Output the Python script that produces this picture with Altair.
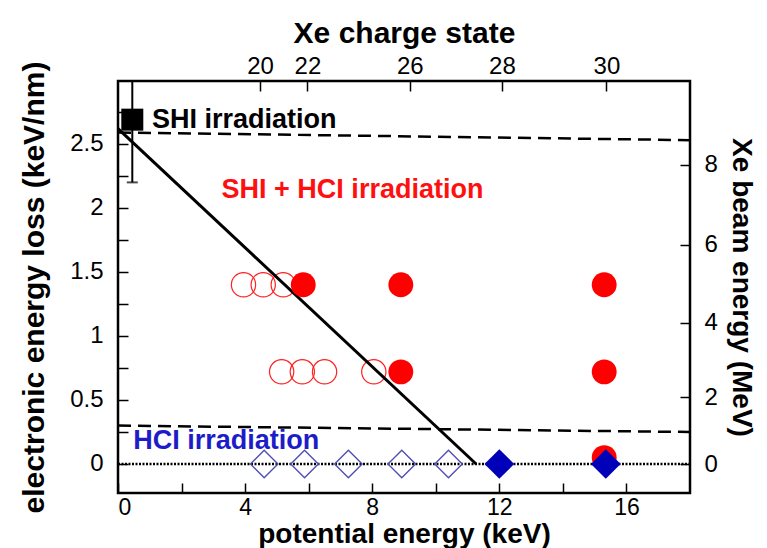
import altair as alt
import pandas as pd

FONT = "Liberation Sans"

# ---------------- data ----------------
x_ticks = [0, 2, 4, 6, 8, 10, 12, 14, 16]
y_ticks = [0, 0.25, 0.5, 0.75, 1.0, 1.25, 1.5, 1.75, 2.0, 2.25, 2.5, 2.75]
charge_states = [20, 22, 26, 28, 30]
charge_pe = [4.47, 5.96, 9.18, 12.08, 15.37]
beam_ticks = [0, 2, 4, 6, 8]

threshold_pe = [0.0, 11.27]
threshold_se = [2.62, 0.0]

shi_limit_pe = [0.0, 18.0]
shi_limit_se = [2.59, 2.53]
hci_limit_pe = [0.0, 18.0]
hci_limit_se = [0.30, 0.25]
zero_pe = [0.0, 18.0]
zero_se = [0.0, 0.0]

shi_pe = [0.45]
shi_se = [2.69]
shi_lo = [2.20]
shi_hi = [3.18]

hollow_circle_pe = [3.95, 4.57, 5.2, 5.15, 5.8, 6.5, 8.05]
hollow_circle_se = [1.40, 1.40, 1.40, 0.72, 0.72, 0.72, 0.72]
filled_circle_pe = [5.83, 8.9, 15.3, 8.9, 15.3, 15.3]
filled_circle_se = [1.40, 1.40, 1.40, 0.72, 0.72, 0.05]
hollow_diamond_pe = [4.6, 5.87, 7.25, 8.93, 10.4]
hollow_diamond_se = [0.0, 0.0, 0.0, 0.0, 0.0]
filled_diamond_pe = [12.0, 15.35]
filled_diamond_se = [0.0, 0.0]

label_text = ["SHI irradiation", "SHI + HCI irradiation", "HCI irradiation"]
label_pe = [1.07, 3.26, 0.48]
label_se = [2.69, 2.14, 0.18]
label_color = ["#000000", "#ff1010", "#1c1cc8"]

# ---------------- scales / axes ----------------
xscale = alt.Scale(domain=[0, 18], nice=False, zero=False)
yscale = alt.Scale(domain=[-0.2266, 2.992], nice=False, zero=False)

xaxis = alt.Axis(values=x_ticks, format="~g",
                 labelExpr="datum.value % 4 === 0 ? datum.label : ''",
                 title="potential energy (keV)", offset=-10, tickSize=10, domain=False,
                 grid=False, labelPadding=3, labelFontSize=23, titlePadding=1,
                 titleFontSize=28)
yaxis = alt.Axis(values=y_ticks, format="~g",
                 labelExpr="datum.value % 0.5 === 0 ? datum.label : ''",
                 title="electronic energy loss (keV/nm)", offset=-10, tickSize=10,
                 domain=False, grid=False, labelPadding=15, titlePadding=20)


def X(field):
    return alt.X(field, type="quantitative", scale=xscale, axis=xaxis)


def Y(field):
    return alt.Y(field, type="quantitative", scale=yscale, axis=yaxis)


def seg(pe, se):
    return pd.DataFrame({"pe": pe, "se": se})


threshold = alt.Chart(seg(threshold_pe, threshold_se)).mark_line(
    color="black", strokeWidth=3, clip=True).encode(x=X("pe"), y=Y("se"))
shi_limit = alt.Chart(seg(shi_limit_pe, shi_limit_se)).mark_line(
    color="black", strokeWidth=2.5, strokeDash=[13, 7], clip=True).encode(x=X("pe"), y=Y("se"))
hci_limit = alt.Chart(seg(hci_limit_pe, hci_limit_se)).mark_line(
    color="black", strokeWidth=2.5, strokeDash=[13, 7], clip=True).encode(x=X("pe"), y=Y("se"))
zero_line = alt.Chart(seg(zero_pe, zero_se)).mark_line(
    color="black", strokeWidth=2.5, strokeDash=[2, 1.5], clip=True).encode(x=X("pe"), y=Y("se"))

shi_df = pd.DataFrame({"pe": shi_pe, "se": shi_se, "lo": shi_lo, "hi": shi_hi})
shi_bar = alt.Chart(shi_df).mark_rule(color="black", strokeWidth=2, clip=True).encode(
    x=X("pe"), y=Y("lo"), y2="hi")
shi_cap = alt.Chart(shi_df).mark_tick(color="black", size=11, thickness=2,
                                      orient="horizontal").encode(x=X("pe"), y=Y("lo"))
shi_pt = alt.Chart(shi_df).mark_point(shape="square", filled=True, color="black",
                                      size=484, opacity=1).encode(x=X("pe"), y=Y("se"))

hollow_c = alt.Chart(seg(hollow_circle_pe, hollow_circle_se)).mark_point(
    shape="circle", filled=False, color="#ff2020", strokeWidth=1.2, size=590,
    opacity=1).encode(x=X("pe"), y=Y("se"))
filled_c = alt.Chart(seg(filled_circle_pe, filled_circle_se)).mark_point(
    shape="circle", filled=True, color="#ff0000", size=620, opacity=1).encode(
    x=X("pe"), y=Y("se"))
hollow_d = alt.Chart(seg(hollow_diamond_pe, hollow_diamond_se)).mark_point(
    shape="diamond", filled=False, color="#5050b0", strokeWidth=1.4, size=760,
    opacity=1).encode(x=X("pe"), y=Y("se"))
filled_d = alt.Chart(seg(filled_diamond_pe, filled_diamond_se)).mark_point(
    shape="diamond", filled=True, color="#0000b8", size=880, opacity=1).encode(
    x=X("pe"), y=Y("se"))

lab_df = pd.DataFrame({"pe": label_pe, "se": label_se, "t": label_text, "c": label_color})
labels = alt.Chart(lab_df).mark_text(align="left", baseline="middle", fontSize=27,
                                     fontWeight="bold", font=FONT).encode(
    x=X("pe"), y=Y("se"), text="t:N", color=alt.Color("c:N", scale=None))

main = alt.layer(zero_line, shi_limit, hci_limit, hollow_c, threshold, filled_c,
                 hollow_d, filled_d, shi_bar, shi_cap, shi_pt, labels)

# secondary axes: charge state (top) and beam energy (right)
top_expr = "[" + ",".join("'%d'" % c for c in charge_states) + "][indexof([" + \
    ",".join(str(p) for p in charge_pe) + "], datum.value)]"
aux_df = pd.DataFrame({"pe": charge_pe, "mev": [0.0] * len(charge_pe)})
aux = alt.Chart(aux_df).mark_point(opacity=0).encode(
    x=alt.X("pe:Q", scale=alt.Scale(domain=[0, 18], nice=False, zero=False),
            axis=alt.Axis(orient="top", values=charge_pe, labelExpr=top_expr,
                          title="Xe charge state", offset=-10, tickSize=10,
                          domain=False, grid=False, labelPadding=3, titlePadding=6)),
    y=alt.Y("mev:Q", scale=alt.Scale(type="pow", exponent=1.08, domain=[-0.922, 10.06],
                                     nice=False, zero=False),
            axis=alt.Axis(orient="right", values=beam_ticks, title="Xe beam energy (MeV)",
                          offset=-10, tickSize=10, domain=False, grid=False,
                          labelPadding=14, titlePadding=9, titleFontSize=28)),
)

chart = alt.layer(main, aux).resolve_scale(x="independent", y="independent").properties(
    width=572, height=412, padding={"left": 11, "top": 10, "right": 4, "bottom": 0}
).configure_view(stroke="black", strokeWidth=2.5).configure_axis(
    labelFont=FONT, titleFont=FONT, labelFontSize=24, titleFontSize=30,
    titleFontWeight="bold", labelColor="black", titleColor="black",
    tickColor="black", tickWidth=1.5
)

chart.save("out.html", embed_options={"renderer": "svg", "actions": False})
